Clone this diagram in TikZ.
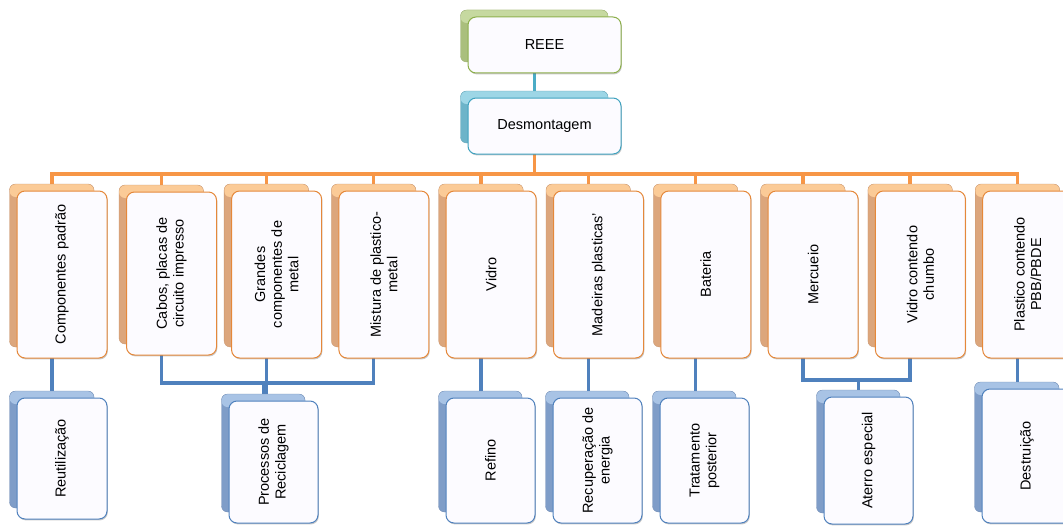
\documentclass[tikz,border=0pt]{standalone}
\usepackage{fontspec}
\setmainfont{Liberation Sans}
\usetikzlibrary{shadows,backgrounds,calc}

% palettes: light top face, darker slab side, card edge
\definecolor{orLight}{HTML}{FBCB97}
\definecolor{orDark}{HTML}{DCA67C}
\definecolor{orEdge}{HTML}{E5883A}
\definecolor{orLine}{HTML}{F79646}
\definecolor{blLight}{HTML}{A8C3E5}
\definecolor{blDark}{HTML}{7F9DC8}
\definecolor{blEdge}{HTML}{4F81BD}
\definecolor{blLine}{HTML}{4F81BD}
\definecolor{grLight}{HTML}{C6D9A0}
\definecolor{grDark}{HTML}{AABF7D}
\definecolor{grEdge}{HTML}{8CAF4A}
\definecolor{cyLight}{HTML}{9DD6E6}
\definecolor{cyDark}{HTML}{6DB4C9}
\definecolor{cyEdge}{HTML}{3FA2BF}
\definecolor{cyLine}{HTML}{4BACC6}
\definecolor{cardFill}{HTML}{FCFBFF}

\tikzset{
  backcard/.style={draw=#1Dark!90!black, line width=0.3pt, fill=#1Dark,
    rounded corners=6pt, inner sep=0pt, outer sep=0pt,
    path picture={\fill[#1Light] (path picture bounding box.north west)
      rectangle ([yshift=-13pt]path picture bounding box.north east);}},
  frontcard/.style={draw=#1Edge, line width=1pt, fill=cardFill,
    rounded corners=8pt, inner sep=0pt, outer sep=0pt,
    drop shadow={shadow xshift=0.8pt, shadow yshift=-1.4pt, opacity=0.35, fill=black!60}},
  cardtext/.style={align=center, inner sep=0pt, font=\fontsize{14.5}{16.6}\selectfont},
  conn/.style={line width=3.5pt, draw=#1},
}

% \mkcard{id}{palette}{left}{top}{width}{height}{rotation}{text}
\newcommand\mkcard[8]{%
  \pgfmathsetmacro\cbx{#3-7.5+(#5-5.5)/2}%
  \pgfmathsetmacro\cby{#4-7+(#6-4)/2}%
  \pgfmathsetmacro\cfx{#3+#5/2}%
  \pgfmathsetmacro\cfy{#4+#6/2}%
  \node[backcard=#2, minimum width={#5-5.5}, minimum height={#6-4}] (#1b) at (\cbx,\cby) {};
  \node[frontcard=#2, minimum width=#5, minimum height=#6] (#1) at (\cfx,\cfy) {};
  \node[cardtext, rotate=#7] (#1t) at (#1.center) {#8};
}

\begin{document}
\begin{tikzpicture}[x=1pt, y=-1pt]
\useasboundingbox (0,0) rectangle (1063,527);

% root and dismantling
\mkcard{reee}{gr}{468}{17}{153}{56}{0}{REEE}
\mkcard{desm}{cy}{468}{98}{153}{56}{0}{Desmontagem}

% fractions
\mkcard{c1}{or}{17}{191}{90}{167}{90}{Componentes padrão}
\mkcard{c2}{or}{126.5}{192}{90}{163}{90}{Cabos, placas de\\circuito impresso}
\mkcard{c3}{or}{231.6}{191}{90}{167}{90}{Grandes\\componentes de\\metal}
\mkcard{c4}{or}{338.9}{191}{90}{167}{90}{Mistura de plastico-\\metal}
\mkcard{c5}{or}{446.2}{191}{90}{167}{90}{Vidro}
\mkcard{c6}{or}{553.5}{191}{90}{167}{90}{Madeiras plasticas'}
\mkcard{c7}{or}{660.8}{191}{90}{167}{90}{Bateria}
\mkcard{c8}{or}{768.1}{191}{90}{167}{90}{Mercueio}
\mkcard{c9}{or}{875.4}{191}{90}{167}{90}{Vidro contendo\\chumbo}
\mkcard{c10}{or}{982.7}{191}{90}{167}{90}{Plastico contendo\\PBB/PBDE}

% treatments
\mkcard{d1}{bl}{17}{398}{90}{121}{90}{Reutilização}
\mkcard{d2}{bl}{229}{401}{89}{122}{90}{Processos de\\Reciclagem}
\mkcard{d3}{bl}{446}{398}{89}{125}{90}{Refino}
\mkcard{d4}{bl}{553}{398}{89}{125}{90}{Recuperação de\\energia}
\mkcard{d5}{bl}{660}{398}{89}{125}{90}{Tratamento\\posterior}
\mkcard{d6}{bl}{824}{397}{89}{127}{90}{Aterro especial}
\mkcard{d7}{bl}{982}{389}{90}{134}{90}{Destruição}

\begin{pgfonlayer}{background}
  \draw[conn=cyLine] (reeeb.south) -- (desmb.north);
  \foreach \k in {1,...,10}
    \draw[conn=orLine] (desmb.south) -- ++(0,31) -| (c\k b.north);

  \draw[conn=blLine] (c1b.south) -- (c1b.south |- d1b.north);
  \coordinate (j1) at ($(d2b.north)+(0,-11)$);
  \draw[conn=blLine] (c2b.south) |- (j1) -- (d2b.north);
  \draw[conn=blLine] (c4b.south) |- (j1);
  \draw[conn=blLine] (c3b.south) -- (c3b.south |- d2b.north);
  \draw[conn=blLine] (c5b.south) -- (c5b.south |- d3b.north);
  \draw[conn=blLine] (c6b.south) -- (c6b.south |- d4b.north);
  \draw[conn=blLine] (c7b.south) -- (c7b.south |- d5b.north);
  \coordinate (j2) at ($(d6b.north)+(0,-10)$);
  \draw[conn=blLine] (c8b.south) |- (j2) -- (d6b.north);
  \draw[conn=blLine] (c9b.south) |- (j2);
  \draw[conn=blLine] (c10b.south) -- (c10b.south |- d7b.north);
\end{pgfonlayer}
\end{tikzpicture}
\end{document}
